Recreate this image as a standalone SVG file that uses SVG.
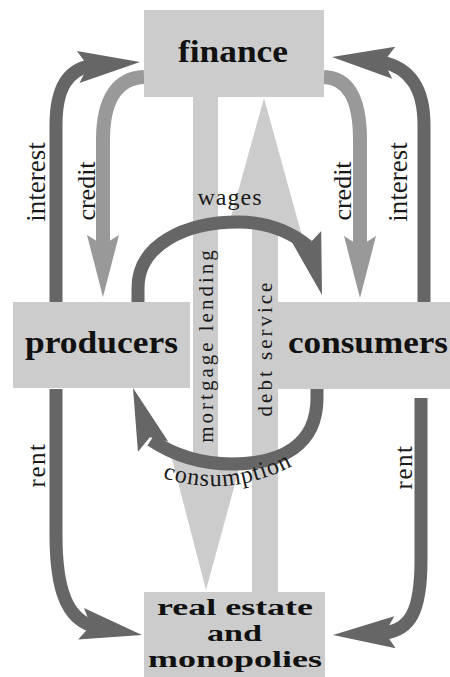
<svg xmlns="http://www.w3.org/2000/svg" xmlns:xlink="http://www.w3.org/1999/xlink" width="450" height="677" viewBox="0 0 450 677">
<style>
.box{fill:#cccccc}
.bar{fill:#cccccc}
.dark{fill:none;stroke:#666666;stroke-width:13}
.light{fill:none;stroke:#999999;stroke-width:14}
.hd{fill:#666666}
.hl{fill:#999999}
.node{font-family:"Liberation Serif",serif;font-weight:bold;font-size:32px;fill:#111111}
.node.small{font-size:23px}
.lab{font-family:"Liberation Serif",serif;font-size:26px;fill:#1a1a1a}
.lab.big{font-size:27px}
.lab.rent{font-size:25px;letter-spacing:1.5px}
.lab.arc{font-size:24px;letter-spacing:1px}
.vlab{font-family:"Liberation Serif",serif;font-size:21px;letter-spacing:3px;fill:#1a1a1a}
</style>
<defs>
<path id="head" d="M0,0 L-62,-16 L-52,0 L-62,16 Z"/>
<path id="consPath" d="M150,473 Q228,505 305,459"/>
</defs>
<rect width="450" height="677" fill="#ffffff"/>
<g id="connectors">
<g id="mortgage-lending">
<polygon class="bar" points="193,97 218,97 218,460 241,462 206,590 171,455 193,456"/>
</g>
<g id="debt-service">
<polygon class="bar" points="252,592 278,592 278,231 302,236 264,98 229,224 252,227"/>
</g>
<g id="interest-left">
<path class="dark" d="M56,303 L56,125 C56,88 68,70 90,66"/>
<use xlink:href="#head" class="hd" transform="translate(140,62) rotate(-4.6)"/>
</g>
<g id="credit-left">
<path class="light" d="M144,77 C118,78 103,98 103,140 L103,247"/>
<use xlink:href="#head" class="hl" transform="translate(103,297) rotate(90)"/>
</g>
<g id="credit-right">
<path class="light" d="M324,77 C348,78 360,98 360,140 L360,247"/>
<use xlink:href="#head" class="hl" transform="translate(360,298) rotate(90)"/>
</g>
<g id="interest-right">
<path class="dark" d="M424,303 L424,125 C424,88 410,68 382,62"/>
<use xlink:href="#head" class="hd" transform="translate(332,57) rotate(185.3)"/>
</g>
<g id="wages">
<path class="dark" d="M138,303 L138,288 C138,245 185,222 238,222 C265,222 288,230 308,246"/>
<use xlink:href="#head" class="hd" transform="translate(322,295) rotate(74.8)"/>
</g>
<g id="consumption">
<path class="dark" d="M317,389 L317,398 C317,445 282,464 232,464 C205,464 178,458 151,440"/>
<use xlink:href="#head" class="hd" transform="translate(133,388) rotate(251.1)"/>
</g>
<g id="rent-left">
<path class="dark" d="M56,389 L56,535 C56,592 68,618 92,626"/>
<use xlink:href="#head" class="hd" transform="translate(142,635) rotate(10.5)"/>
</g>
<g id="rent-right">
<path class="dark" d="M421,398 L421,560 C421,612 410,630 384,633"/>
<use xlink:href="#head" class="hd" transform="translate(333,635) rotate(177.5)"/>
</g>
<g id="labels">
<text class="lab big" text-anchor="middle" transform="translate(45,182) rotate(-90)">interest</text>
<text class="lab" text-anchor="middle" transform="translate(95,191) rotate(-90)">credit</text>
<text class="lab" text-anchor="middle" transform="translate(351,191) rotate(-90)">credit</text>
<text class="lab big" text-anchor="middle" transform="translate(407,182) rotate(-90)">interest</text>
<text class="lab rent" text-anchor="middle" transform="translate(45,465) rotate(-90)">rent</text>
<text class="lab rent" text-anchor="middle" transform="translate(412,467) rotate(-90)">rent</text>
<text class="vlab" text-anchor="middle" transform="translate(213,345) rotate(-90)">mortgage lending</text>
<text class="vlab" text-anchor="middle" transform="translate(272,348) rotate(-90)">debt service</text>
<text class="lab arc" x="230" y="205" text-anchor="middle">wages</text>
<text class="lab arc" text-anchor="middle"><textPath xlink:href="#consPath" startOffset="50%">consumption</textPath></text>
</g>
</g>
<g id="node-finance">
<rect class="box" x="144" y="10" width="180" height="87"/>
<text class="node" x="178" y="62" textLength="110" lengthAdjust="spacingAndGlyphs">finance</text>
</g>
<g id="node-producers">
<rect class="box" x="13" y="302" width="177" height="86"/>
<text class="node" x="25" y="353" textLength="153" lengthAdjust="spacingAndGlyphs">producers</text>
</g>
<g id="node-consumers">
<rect class="box" x="278" y="302" width="172" height="87"/>
<text class="node" x="288" y="353" textLength="160" lengthAdjust="spacingAndGlyphs">consumers</text>
</g>
<g id="node-realestate">
<rect class="box" x="144" y="592" width="181" height="85"/>
<text class="node small" x="157" y="615" textLength="156" lengthAdjust="spacingAndGlyphs">real estate</text>
<text class="node small" x="207" y="641" textLength="55" lengthAdjust="spacingAndGlyphs">and</text>
<text class="node small" x="148" y="667" textLength="174" lengthAdjust="spacingAndGlyphs">monopolies</text>
</g>
</svg>
